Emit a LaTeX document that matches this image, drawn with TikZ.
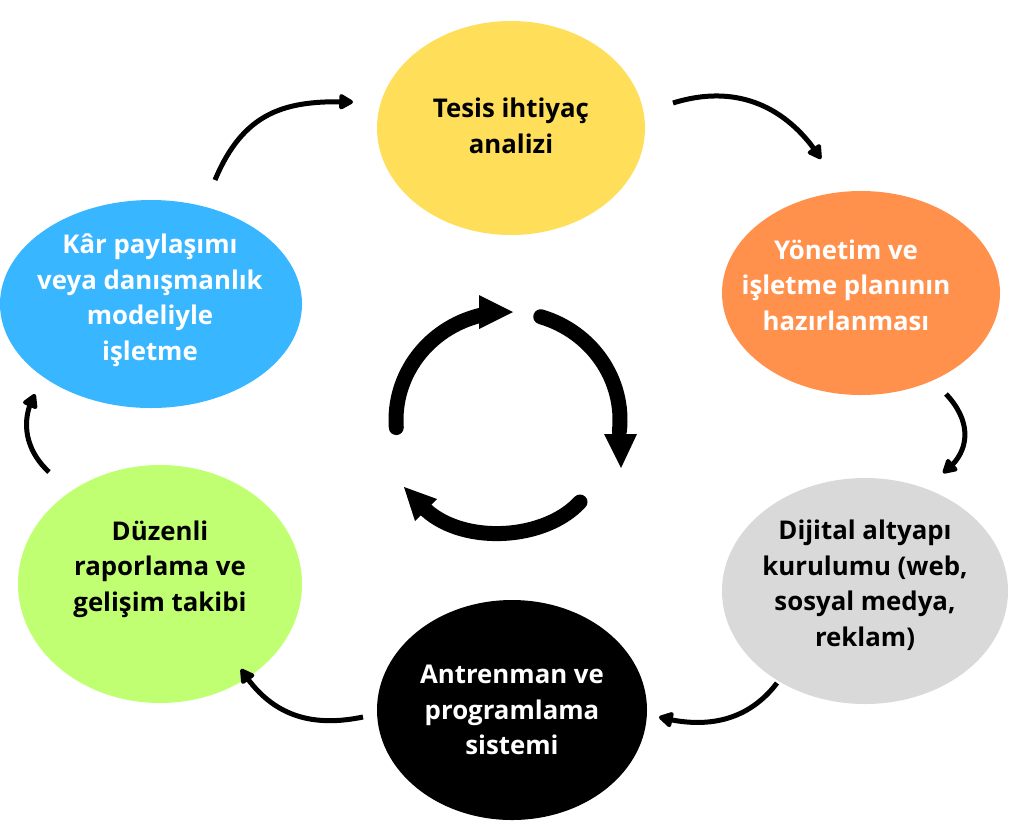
\documentclass[tikz,border=0pt]{standalone}
\usepackage{fontspec}
\setmainfont{Open Sans}
\usetikzlibrary{arrows.meta,bending,shapes.geometric,calc}
\definecolor{cyellow}{HTML}{FFDE59}
\definecolor{corange}{HTML}{FF914D}
\definecolor{cgrey}{HTML}{D9D9D9}
\definecolor{cgreen}{HTML}{C1FF72}
\definecolor{cblue}{HTML}{38B6FF}
\begin{document}
\begin{tikzpicture}[x=1pt,y=-1pt,
  bub/.style={ellipse, inner sep=0pt, draw=none},
  lbl/.style={font=\bfseries\fontsize{25.8}{35.5}\selectfont, align=center, inner sep=0pt},
  conn/.style={line width=5pt, -{Triangle[length=16pt,width=17pt,round,flex]}},
  ring/.style={line width=15pt, line cap=round},
  head/.style={fill=black, draw=none}]
\useasboundingbox[fill=white] (0,0) rectangle (1024,839);

% bubbles
\node[bub, fill=cyellow, minimum width=268pt, minimum height=214pt] (e1) at (511,128) {};
\node[bub, fill=corange, minimum width=278pt, minimum height=204pt] (e2) at (861,293) {};
\node[bub, fill=cgrey, minimum width=286pt, minimum height=226pt] (e3) at (865,591) {};
\node[bub, fill=black, minimum width=270pt, minimum height=220pt] (e4) at (512,710) {};
\node[bub, fill=cgreen, minimum width=284pt, minimum height=238pt] (e5) at (160,584) {};
\node[bub, fill=cblue, minimum width=302pt, minimum height=208pt] (e6) at (151,304) {};

% labels
\node[lbl, text=black] (t1) at (511,126) {Tesis ihtiyaç\\analizi};
\node[lbl, text=white] (t2) at (846,285) {Yönetim ve\\işletme planının\\hazırlanması};
\node[lbl, text=black] (t3) at (865,585) {Dijital altyapı\\kurulumu (web,\\sosyal medya,\\reklam)};
\node[lbl, text=white] (t4) at (512,710) {Antrenman ve\\programlama\\sistemi};
\node[lbl, text=black] (t5) at (160,569) {Düzenli\\raporlama ve\\gelişim takibi};
\node[lbl, text=white] (t6) at (150,300) {Kâr paylaşımı\\veya danışmanlık\\modeliyle\\işletme};

% outer connectors
\coordinate (a1s) at (215,180); \coordinate (a1e) at (353,102);
\coordinate (a2s) at (673,103); \coordinate (a2e) at (821,159);
\coordinate (a3s) at (946,394); \coordinate (a3e) at (943,473);
\coordinate (a4s) at (777,683); \coordinate (a4e) at (659,717);
\coordinate (a5s) at (363,717); \coordinate (a5e) at (241,669);
\coordinate (a6s) at (49,472);  \coordinate (a6e) at (35,394);
\draw[conn] (a1s) .. controls (245,108) and (290,100) .. (a1e);
\draw[conn] (a2s) .. controls (740,82) and (790,110) .. (a2e);
\draw[conn] (a3s) .. controls (975,425) and (968,455) .. (a3e);
\draw[conn] (a4s) .. controls (745,725) and (700,728) .. (a4e);
\draw[conn] (a5s) .. controls (310,728) and (270,715) .. (a5e);
\draw[conn] (a6s) .. controls (25,450) and (20,420) .. (a6e);

% central cycle
\coordinate (c) at (508,420);
\draw[ring] ($(c)+(176:112 and 108)$) arc[start angle=176, end angle=256, x radius=112, y radius=108];
\fill[head] (479,295) -- (513,312) -- (479,329) -- cycle;
\draw[ring] ($(c)+(287:112 and 108)$) arc[start angle=287, end angle=366, x radius=112, y radius=108];
\fill[head] (604,434) -- (637,434) -- (621,468) -- cycle;
\draw[ring] (580,502) .. controls (545,540) and (465,545) .. (426,510);
\fill[head] (404,487) -- (437,499) -- (415,521) -- cycle;
\end{tikzpicture}
\end{document}
